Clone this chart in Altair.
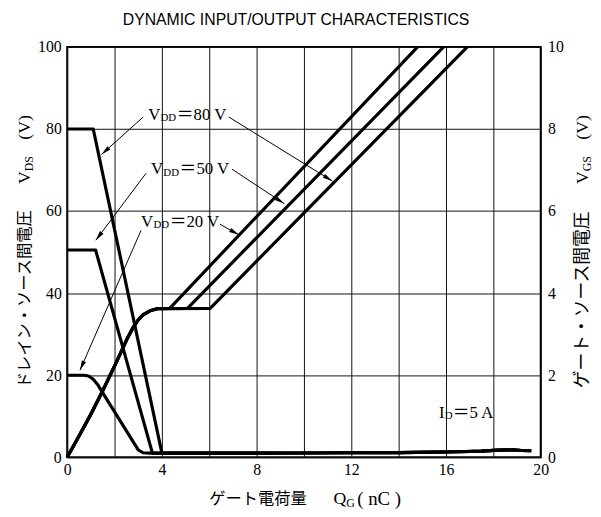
import math
import altair as alt
import pandas as pd

# ---------------- data ----------------
Q_MAX = 20
VDS_MAX = 100
VGS_MAX = 10
W, H = 480, 416

x_grid = [0, 2, 4, 6, 8, 10, 12, 14, 16, 18, 20]
y_left_ticks = [0, 20, 40, 60, 80, 100]
y_right_ticks = [0, 2, 4, 6, 8, 10]

# Drain-source voltage V_DS (V) versus gate charge Q_G (nC)
vds80_q = [0.0, 1.1, 4.0]
vds80_v = [80.0, 80.0, 1.0]
vds50_q = [0.0, 1.2, 3.6]
vds50_v = [50.5, 50.5, 1.0]
vds20_q = [0.0, 0.7, 0.9, 1.1, 1.3, 3.0, 3.2, 3.5]
vds20_v = [20.0, 20.0, 19.8, 19.0, 17.6, 1.8, 1.1, 1.0]
tail_q = [4.0, 6.0, 8.0, 10.0, 12.0, 14.0, 15.5, 16.5, 17.5, 18.2, 18.8, 19.2, 19.6]
tail_v = [1.0, 1.0, 1.0, 1.05, 1.1, 1.15, 1.25, 1.35, 1.5, 1.75, 1.8, 1.65, 1.6]

# Gate-source voltage V_GS (V) versus gate charge Q_G (nC)
vgs_rise_q = [0.0, 0.5, 1.0, 1.5, 2.0, 2.5, 2.8, 3.0, 3.2, 3.5, 3.8]
vgs_rise_v = [0.0, 0.52, 1.05, 1.62, 2.22, 2.85, 3.18, 3.35, 3.47, 3.57, 3.62]
plateau_v = 3.63
vdd_names = ["20", "50", "80"]
plateau_end_q = [4.33, 5.08, 6.04]
top_q = [14.8, 15.9, 16.9]
top_v = 10.0

# V_DD labels (data coordinates of text baseline start)
label_q = [3.42, 3.54, 3.12]
label_v = [82.2, 69.0, 56.2]
label_rest = ["＝80 V", "＝50 V", "＝20 V"]

# Leader arrows (start -> tip)
lead_q1 = [3.21, 6.83, 3.33, 6.96, 3.12, 6.45]
lead_v1 = [82.9, 82.9, 69.2, 70.2, 55.3, 56.8]
lead_q2 = [1.45, 11.2, 1.21, 9.17, 0.54, 7.25]
lead_v2 = [73.8, 67.3, 52.9, 61.8, 21.2, 54.2]

# I_D label
id_q = [15.7]
id_v = [9.6]

# ---------------- tables ----------------
rows = []
for name, qs, vs in [("80", vds80_q, vds80_v), ("50", vds50_q, vds50_v), ("20", vds20_q, vds20_v)]:
    q_all = list(qs) + [q for q in tail_q if q > qs[-1]]
    v_all = list(vs) + [v for q, v in zip(tail_q, tail_v) if q > qs[-1]]
    for i, (q, v) in enumerate(zip(q_all, v_all)):
        rows.append({"s": name, "i": i, "q": q, "v": v})
vds_df = pd.DataFrame(rows)

rows = []
for name, pq, tq in zip(vdd_names, plateau_end_q, top_q):
    q_all = vgs_rise_q + [pq, tq]
    g_all = vgs_rise_v + [plateau_v, top_v]
    for i, (q, g) in enumerate(zip(q_all, g_all)):
        rows.append({"s": name, "i": i, "q": q, "g": g})
vgs_df = pd.DataFrame(rows)

px_x = W / Q_MAX
px_y = H / VDS_MAX
angles = []
for a, b, c, d in zip(lead_q1, lead_v1, lead_q2, lead_v2):
    dxp = (c - a) * px_x
    dyp = -(d - b) * px_y
    angles.append(math.degrees(math.atan2(dxp, -dyp)) % 360)
lead_df = pd.DataFrame({"q1": lead_q1, "v1": lead_v1, "q2": lead_q2, "v2": lead_v2, "ang": angles})

label_df = pd.DataFrame({"q": label_q, "v": label_v, "main": ["V"] * 3, "sub": ["DD"] * 3, "rest": label_rest})
id_df = pd.DataFrame({"q": id_q, "v": id_v, "main": ["I"], "sub": ["D"], "rest": ["＝5 A"]})

# ---------------- styles ----------------
SERIF = "Liberation Serif, Noto Sans CJK JP"
CJK = "Noto Sans CJK JP"
SANS = "Liberation Sans"
ARROW = "M0,0L0.45,2L-0.45,2Z"

xs = alt.Scale(domain=[0, Q_MAX], nice=False)
ys_left = alt.Scale(domain=[0, VDS_MAX], nice=False)
ys_right = alt.Scale(domain=[0, VGS_MAX], nice=False)

axis_common = dict(ticks=False, domain=False, labelFont="Liberation Serif", labelFontSize=16,
                   labelColor="black", gridColor="#111111", gridWidth=1, gridOpacity=1,
                   labelFlush=False, title=None)

x_axis = alt.Axis(values=x_grid, labelExpr="datum.value % 4 == 0 ? datum.label : ''",
                  grid=True, labelPadding=4, **axis_common)
y_axis_left = alt.Axis(values=y_left_ticks, grid=True, orient="left", labelPadding=6, **axis_common)
y_axis_right = alt.Axis(values=y_right_ticks, grid=False, orient="right", labelPadding=7, **axis_common)


def X(field):
    return alt.X(field, scale=xs, axis=x_axis, title=None)


def YL(field):
    return alt.Y(field, scale=ys_left, axis=y_axis_left, title=None)


vds_chart = alt.Chart(vds_df).mark_line(color="black", strokeWidth=3.2, strokeJoin="round").encode(
    x=X("q:Q"),
    y=YL("v:Q"),
    detail="s:N",
    order="i:Q",
)

vgs_chart = alt.Chart(vgs_df).mark_line(color="black", strokeWidth=3.2, strokeJoin="round").encode(
    x=X("q:Q"),
    y=alt.Y("g:Q", scale=ys_right, axis=y_axis_right, title=None),
    detail="s:N",
    order="i:Q",
)

rules = alt.Chart(lead_df).mark_rule(color="black", strokeWidth=1).encode(
    x=X("q1:Q"),
    y=YL("v1:Q"),
    x2="q2:Q",
    y2="v2:Q",
)

heads = alt.Chart(lead_df).mark_point(shape=ARROW, filled=True, size=100, color="black",
                                      opacity=1, strokeWidth=0).encode(
    x=X("q2:Q"),
    y=YL("v2:Q"),
    angle=alt.Angle("ang:Q", scale=None),
)


def label_layer(df, field, dx, size, dy=0):
    return alt.Chart(df).mark_text(align="left", baseline="alphabetic", dx=dx, dy=dy, font=SERIF,
                                   fontSize=size, color="black").encode(
        x=X("q:Q"),
        y=YL("v:Q"),
        text=f"{field}:N",
    )


labels = [
    label_layer(label_df, "main", 0, 17),
    label_layer(label_df, "sub", 12.5, 11, 1.5),
    label_layer(label_df, "rest", 29, 17),
    label_layer(id_df, "main", 0, 17),
    label_layer(id_df, "sub", 6, 11, 1.5),
    label_layer(id_df, "rest", 14, 17),
]


def fixed_text(text, x, y, size, font, angle=0, dx=0, dy=0, align="left", baseline="middle"):
    return alt.Chart(alt.Data(values=[{"t": text}])).mark_text(
        align=align, baseline=baseline, angle=angle, dx=dx, dy=dy, font=font,
        fontSize=size, color="black").encode(x=alt.value(x), y=alt.value(y), text="t:N")


titles = [
    fixed_text("DYNAMIC INPUT/OUTPUT CHARACTERISTICS", 232, -27, 16, SANS, align="center"),
    # left axis title (reads bottom to top)
    fixed_text("ドレイン・ソース間電圧", -43, 346, 16.5, CJK, angle=270),
    fixed_text("V", -43, 346, 18, SERIF, angle=270, dx=207),
    fixed_text("DS", -43, 346, 12, SERIF, angle=270, dx=220, dy=4),
    fixed_text("(V)", -43, 346, 18, SERIF, angle=270, dx=252),
    # right axis title
    fixed_text("ゲート・ソース間電圧", 523, 346, 18, CJK, angle=270),
    fixed_text("V", 523, 346, 18, SERIF, angle=270, dx=207),
    fixed_text("GS", 523, 346, 12, SERIF, angle=270, dx=220, dy=4),
    fixed_text("(V)", 523, 346, 18, SERIF, angle=270, dx=252),
    # bottom axis title
    fixed_text("ゲート電荷量", 144, 458, 16.5, CJK),
    fixed_text("Q", 270, 458, 18, SERIF),
    fixed_text("G", 283, 458, 12, SERIF, dy=4),
    fixed_text("( nC )", 294, 458, 19, SERIF),
]

inner = alt.layer(vds_chart, rules, heads, *labels)

chart = alt.layer(inner, vgs_chart, *titles).resolve_scale(y="independent").properties(
    width=W,
    height=H,
    autosize=alt.AutoSizeParams(type="none"),
    padding={"left": 60, "top": 36, "right": 53, "bottom": 49},
).configure_view(stroke="black", strokeWidth=2)

chart.save("out.html", embed_options={"renderer": "svg", "actions": False})
